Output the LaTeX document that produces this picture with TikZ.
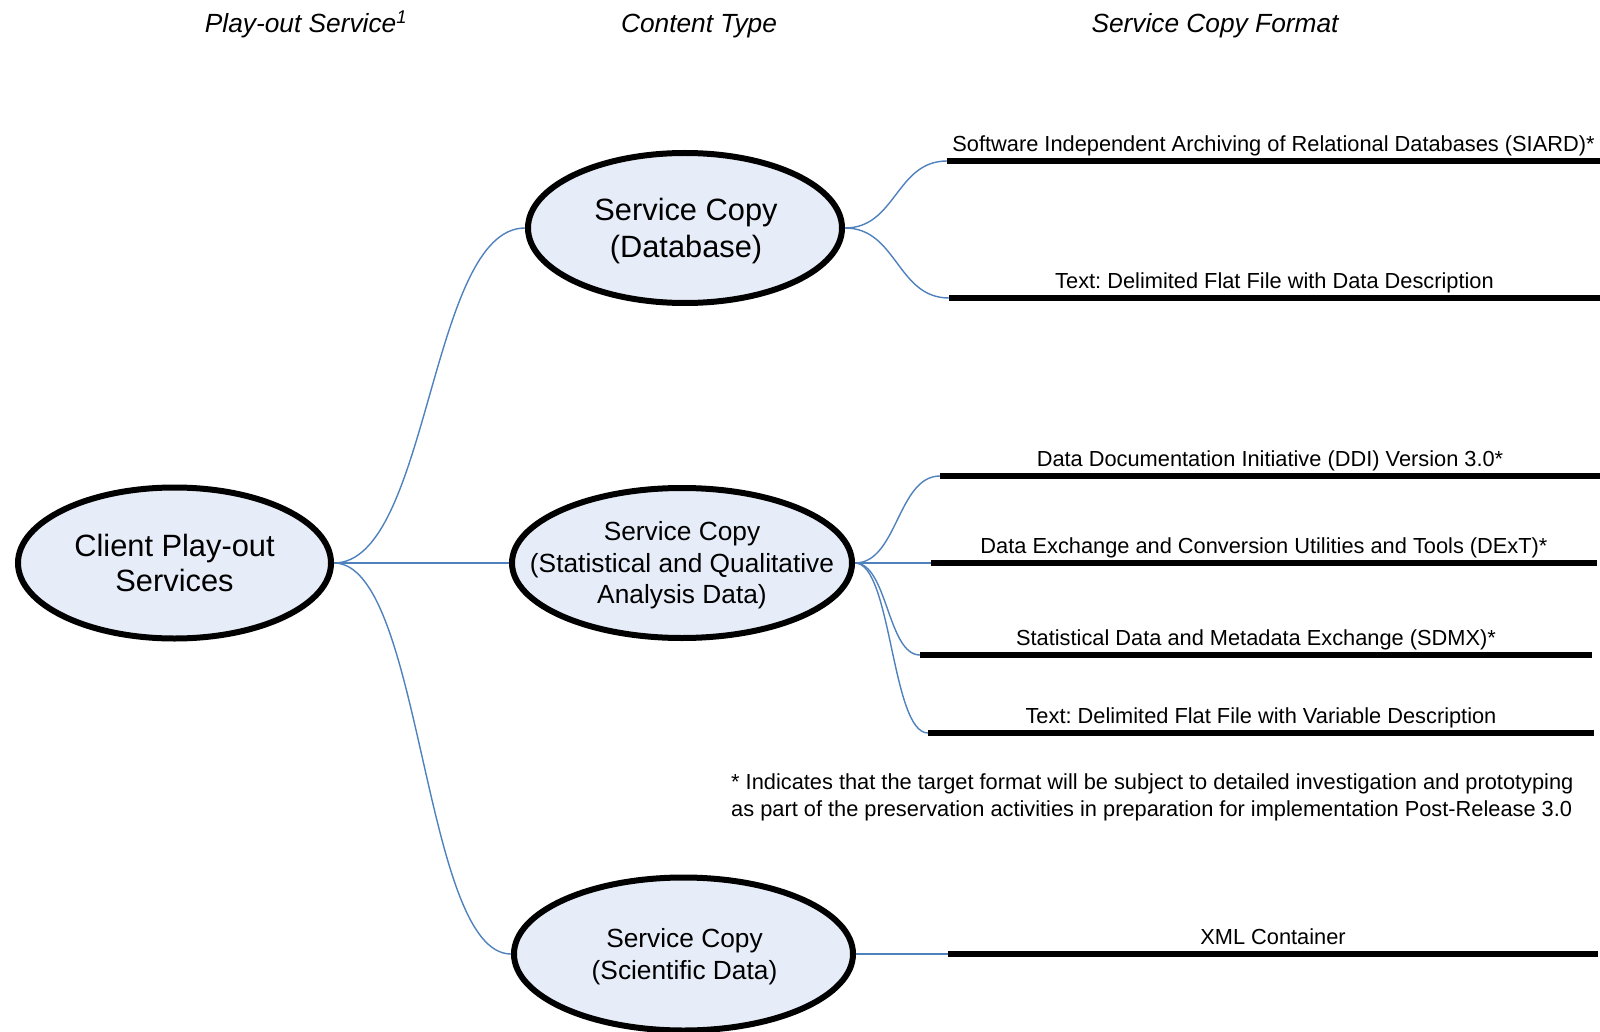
\documentclass[tikz,border=0pt]{standalone}
\usepackage{fontspec}
\setmainfont{Liberation Sans}
\usetikzlibrary{shapes.geometric,calc,backgrounds}
\definecolor{bubblefill}{RGB}{231,237,248}
\definecolor{linkblue}{RGB}{79,129,189}
\frenchspacing
\begin{document}
\begin{tikzpicture}[x=1pt,y=-1pt,
  bubble/.style={ellipse, draw=black, line width=6pt, fill=bubblefill, inner sep=0pt},
  bubbletext/.style={align=center, inner sep=0pt},
  fmtline/.style={line width=6pt, black},
  fmtlabel/.style={midway, anchor=base, yshift=9.5pt, inner sep=0pt,
    font=\fontsize{21.8}{26.5}\selectfont},
  heading/.style={anchor=base, inner sep=0pt, font=\fontsize{26.3}{30}\selectfont\itshape},
  link/.style={draw=linkblue, line width=1.4pt,
    to path={let \p1=(\tikztostart), \p2=(\tikztotarget) in
      (\p1) .. controls ({(\x1+\x2)/2},\y1) and ({(\x1+\x2)/2},\y2) .. (\p2)}},
]
\useasboundingbox (0,0) rectangle (1600,1032);

% column headings
\node[heading] (h-play) at (306,33) {Play-out Service\textsuperscript{1}};
\node[heading] (h-content) at (699,33) {Content Type};
\node[heading] (h-format) at (1215,33) {Service Copy Format};

% service and content-type bubbles
\node[bubble, minimum width=313pt, minimum height=151pt] (client) at (174.5,563) {};
\node[bubble, minimum width=314pt, minimum height=150pt] (db) at (685,228) {};
\node[bubble, minimum width=340pt, minimum height=150pt] (stat) at (682,563) {};
\node[bubble, minimum width=339pt, minimum height=153pt] (sci) at (683.5,954) {};

\node[bubbletext, font=\fontsize{30.8}{35.7}\selectfont] (client-text) at (174.5,563)
  {Client Play-out\\Services};
\node[bubbletext, font=\fontsize{30.8}{36.3}\selectfont] (db-text) at (686,231)
  {Service Copy\\(Database)};
\node[bubbletext, font=\fontsize{26.3}{31.6}\selectfont] (stat-text) at (682,565.5)
  {Service Copy\\(Statistical and Qualitative\\Analysis Data)};
\node[bubbletext, font=\fontsize{26.3}{31.6}\selectfont] (sci-text) at (684.5,956.5)
  {Service Copy\\(Scientific Data)};

% format lines
\coordinate (siard-a) at (947,161);   \coordinate (siard-b) at (1600,161);
\coordinate (flat-a) at (949,298);    \coordinate (flat-b) at (1600,298);
\coordinate (ddi-a) at (940,476);     \coordinate (ddi-b) at (1600,476);
\coordinate (dext-a) at (931,563);    \coordinate (dext-b) at (1597,563);
\coordinate (sdmx-a) at (920,655);    \coordinate (sdmx-b) at (1592,655);
\coordinate (var-a) at (928,733);     \coordinate (var-b) at (1594,733);
\coordinate (xml-a) at (948,954);     \coordinate (xml-b) at (1598,954);

\draw[fmtline] (siard-a) -- node[fmtlabel] (siard) {Software Independent Archiving of Relational Databases (SIARD)*} (siard-b);
\draw[fmtline] (flat-a) -- node[fmtlabel] (flat) {Text: Delimited Flat File with Data Description} (flat-b);
\draw[fmtline] (ddi-a) -- node[fmtlabel] (ddi) {Data Documentation Initiative (DDI) Version 3.0*} (ddi-b);
\draw[fmtline] (dext-a) -- node[fmtlabel] (dext) {Data Exchange and Conversion Utilities and Tools (DExT)*} (dext-b);
\draw[fmtline] (sdmx-a) -- node[fmtlabel] (sdmx) {Statistical Data and Metadata Exchange (SDMX)*} (sdmx-b);
\draw[fmtline] (var-a) -- node[fmtlabel] (var) {Text: Delimited Flat File with Variable Description} (var-b);
\draw[fmtline] (xml-a) -- node[fmtlabel] (xml) {XML Container} (xml-b);

% footnote
\node[anchor=north west, align=left, inner sep=0pt, font=\fontsize{21.8}{27}\selectfont] (note)
  at (731,773) {* Indicates that the target format will be subject to detailed investigation and prototyping\\
  as part of the preservation activities in preparation for implementation Post-Release 3.0};

% connectors
\begin{scope}[on background layer]
  \draw[link] (client.east) to (db.west);
  \draw[link] (client.east) to (stat.west);
  \draw[link] (client.east) to (sci.west);
  \draw[link] (db.east) to (siard-a);
  \draw[link] (db.east) to (flat-a);
  \draw[link] (stat.east) to (ddi-a);
  \draw[link] (stat.east) to (dext-a);
  \draw[link] (stat.east) to (sdmx-a);
  \draw[link] (stat.east) to (var-a);
  \draw[link] (sci.east) to (xml-a);
\end{scope}
\end{tikzpicture}
\end{document}
